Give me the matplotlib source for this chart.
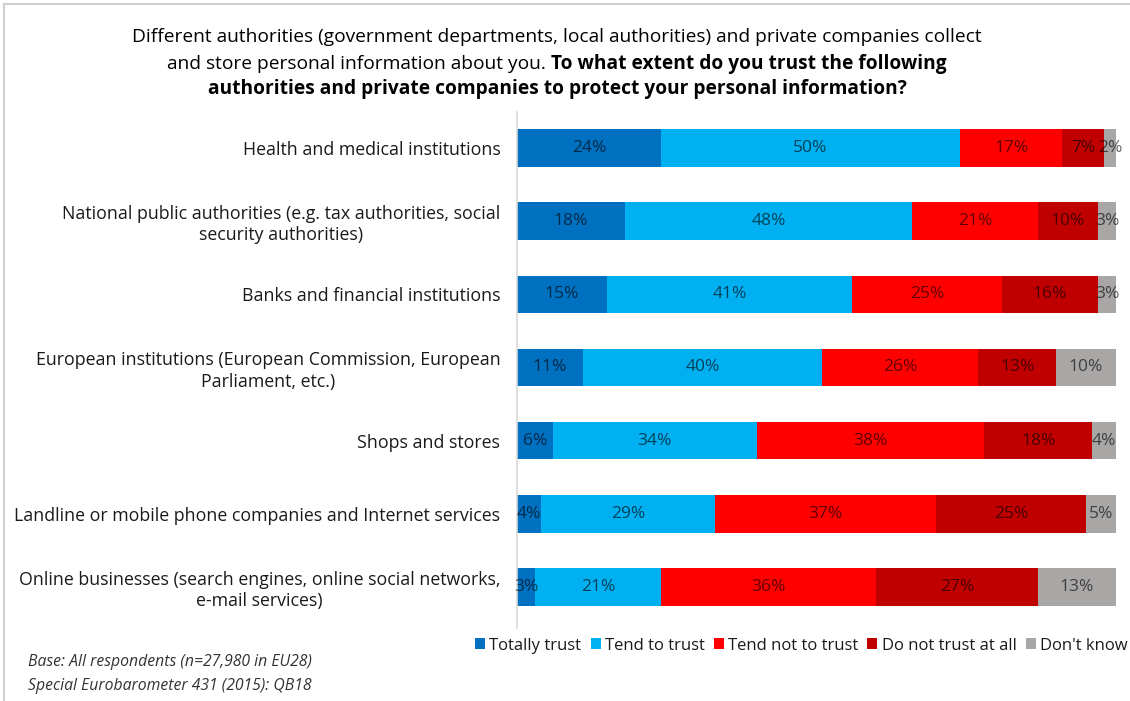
import numpy as np
import matplotlib
matplotlib.use("Agg")
import matplotlib.pyplot as plt
from matplotlib.lines import Line2D
from matplotlib.patches import Patch

plt.rcParams['font.family'] = ['Open Sans', 'DejaVu Sans']

categories = [
    "Health and medical institutions",
    "National public authorities (e.g. tax authorities, social\nsecurity authorities)",
    "Banks and financial institutions",
    "European institutions (European Commission, European\nParliament, etc.)",
    "Shops and stores",
    "Landline or mobile phone companies and Internet services",
    "Online businesses (search engines, online social networks,\ne-mail services)",
]
series_names = ["Totally trust", "Tend to trust", "Tend not to trust",
                "Do not trust at all", "Don't know"]
totally_trust = [24, 18, 15, 11, 6, 4, 3]
tend_to_trust = [50, 48, 41, 40, 34, 29, 21]
tend_not_to_trust = [17, 21, 25, 26, 38, 37, 36]
no_trust_at_all = [7, 10, 16, 13, 18, 25, 27]
dont_know = [2, 3, 3, 10, 4, 5, 13]
colors = ["#0070C0", "#00B0F0", "#FF0000", "#C00000", "#A9A6A6"]

values = [totally_trust, tend_to_trust, tend_not_to_trust, no_trust_at_all, dont_know]

fig = plt.figure(figsize=(11.3, 7.01), dpi=100)
ax = fig.add_axes([0.4575, 0.1041, 0.5301, 0.7361])

y = np.arange(len(categories))
left = np.zeros(len(categories))
for vals, col in zip(values, colors):
    vals = np.array(vals, dtype=float)
    ax.barh(y, vals, left=left, height=0.51, color=col, edgecolor='none')
    for yi, (l, v) in enumerate(zip(left, vals)):
        ax.text(l + v / 2, yi, f"{int(v)}%", ha='center', va='center',
                fontsize=12.5, color='black', alpha=0.62)
    left += vals

ax.set_xlim(0, 100)
ax.set_ylim(6.56, -0.49)
ax.set_yticks(y)
ax.set_yticklabels(categories, fontsize=12.8, color='#1a1a1a', multialignment='center',
                   linespacing=1.22)
ax.tick_params(axis='y', length=0, pad=12)
ax.set_xticks([])
for s in ['top', 'right', 'bottom']:
    ax.spines[s].set_visible(False)
ax.spines['left'].set_color('#D9D9D9')
ax.spines['left'].set_linewidth(1.2)

# legend along the bottom
handles = [Patch(facecolor=c, edgecolor='none') for c in colors]
fig.legend(handles, series_names, loc='center right', bbox_to_anchor=(1.011, 0.079),
           ncol=5, frameon=False, fontsize=12, handlelength=0.6, handleheight=0.6,
           handletextpad=0.25, columnspacing=0.55, labelcolor='#1a1a1a')

# heading, second line mixes normal and bold text
fs_title = 13.8
renderer = fig.canvas.get_renderer()
fig.text(0.493, 1 - 37 / 701, "Different authorities (government departments, local authorities) "
         "and private companies collect", ha='center', va='center', fontsize=fs_title)
t_a = fig.text(0, 1 - 64 / 701, "and store personal information about you. ",
               ha='left', va='center', fontsize=fs_title)
t_b = fig.text(0, 1 - 64 / 701, "To what extent do you trust the following",
               ha='left', va='center', fontsize=fs_title, fontweight='bold')
wa = t_a.get_window_extent(renderer).width / fig.bbox.width
wb = t_b.get_window_extent(renderer).width / fig.bbox.width
x0 = 0.493 - (wa + wb) / 2
t_a.set_x(x0)
t_b.set_x(x0 + wa)
fig.text(0.493, 1 - 89 / 701, "authorities and private companies to protect your personal information?",
         ha='center', va='center', fontsize=fs_title, fontweight='bold')

# source note
fig.text(0.025, 1 - 662 / 701, "Base: All respondents (n=27,980 in EU28)",
         ha='left', va='center', fontsize=11.3, style='italic', color='#333333')
fig.text(0.025, 1 - 686 / 701, "Special Eurobarometer 431 (2015): QB18",
         ha='left', va='center', fontsize=11.3, style='italic', color='#333333')

# thin frame on the top and left edges
fig.add_artist(Line2D([4 / 1130, 4 / 1130], [0, 1 - 4 / 701], color='#D0D0D0', lw=1.5))
fig.add_artist(Line2D([4 / 1130, 1], [1 - 4 / 701, 1 - 4 / 701], color='#D0D0D0', lw=1.5))

fig.savefig("out.png", dpi=100, facecolor='white')
